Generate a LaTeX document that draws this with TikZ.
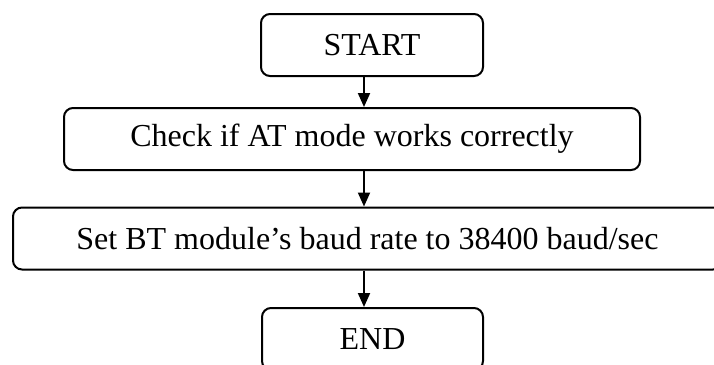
\documentclass[tikz,border=0pt]{standalone}
\usepackage{fontspec}
\setmainfont{Liberation Serif}
\usetikzlibrary{arrows.meta}

\begin{document}
\begin{tikzpicture}[
  x=0.5pt, y=-0.5pt,
  every node/.style={draw, rounded corners=4.5pt, line width=1pt, inner sep=0pt,
    minimum height=31pt, font=\fontsize{16}{19}\selectfont},
  flow/.style={-{Triangle[width=6pt,length=7pt]}, line width=1pt}
]
\useasboundingbox (0,0) rectangle (714,365);
\clip (0,0) rectangle (714,365);
\coordinate (ax) at (364,0);
\node[minimum width=111pt] (start) at (372,45) {START};
\node[minimum width=288pt] (check) at (352,139) {Check if AT mode works correctly};
\node[minimum width=354.5pt] (baud) at (367.5,238.5) {Set BT module’s baud rate to 38400 baud/sec};
\node[minimum width=110.5pt] (end) at (372.5,339) {END};
\draw[flow] (start.south -| ax) -- (check.north -| ax);
\draw[flow] (check.south -| ax) -- (baud.north -| ax);
\draw[flow] (baud.south -| ax) -- (end.north -| ax);
\end{tikzpicture}
\end{document}
